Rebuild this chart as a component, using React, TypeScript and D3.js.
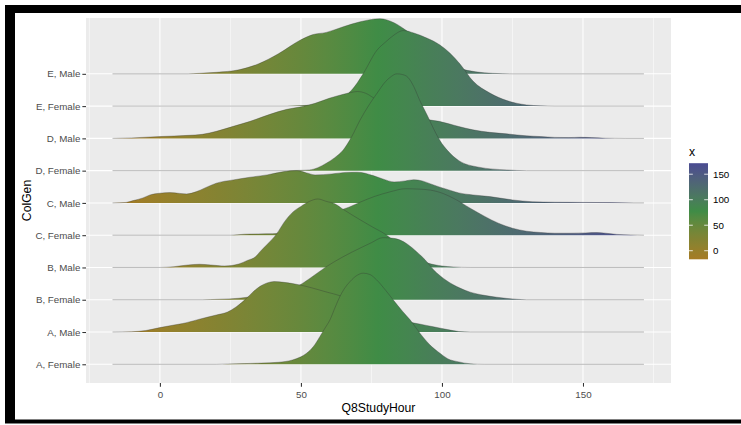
import React, { useEffect, useRef } from 'react';
import * as d3 from 'd3';

// categories, bottom row first
const groups: string[] = [
  'A, Female', 'A, Male', 'B, Female', 'B, Male', 'C, Female',
  'C, Male', 'D, Female', 'D, Male', 'E, Female', 'E, Male',
];

const aFemale: [number, number][] = [[-16.8,0],[20,0],[24,0.15],[30,0.35],[36,0.6],[42,1],[47,2.15],[50,3.75],[52,5.5],[54.5,9],[56.7,13.8],[58.5,18],[60.3,22.2],[62,28],[63.8,33.8],[65.5,38],[67.4,41.3],[70,44.5],[72.1,45.5],[74.5,44.8],[76.8,42.2],[80,37],[82.7,32.2],[86,26.5],[88.7,22.2],[92.2,15.5],[95.5,10],[99.3,5.5],[102,2.8],[106,1.2],[110,0.25],[115,0],[171.6,0]];
const aMale: [number, number][] = [[-16.8,0],[-10,0.15],[-5,0.75],[0,2.2],[5,3.5],[8,4.2],[14,6.4],[20,8.5],[24,10],[27,12.5],[30.7,16.8],[33,20],[35.5,22.8],[38,24.5],[40.5,25.2],[44,24.8],[47,24.2],[49.6,23.5],[54,22],[59,20],[65,17.6],[70,14.5],[75,11],[80,8.5],[84,6.5],[87.5,5.2],[92,4],[97,2.6],[102,1.2],[106,0.25],[110,0],[171.6,0]];
const bFemale: [number, number][] = [[-16.8,0],[15,0],[21,0.25],[28,0.75],[31,1.25],[35,1.75],[40,3],[45,5],[49.6,7.4],[54,11.5],[59,16.5],[65,21.5],[71,25.8],[75,28.5],[79,31],[82,30.8],[85,29.9],[88,27.5],[91,24],[94,20],[97,15],[101.7,9.5],[106.4,5.8],[110,3.8],[115,2.2],[119.4,1.25],[126.5,0.25],[130,0],[171.6,0]];
const bMale: [number, number][] = [[-16.8,0],[0,0],[5,0.4],[10,1.25],[14,1.6],[18,1.25],[23,0.75],[28,1.75],[31,3.5],[34,5.5],[35.5,7.9],[38,11.5],[41.5,17],[44,22.5],[47,27.5],[50,30.5],[53,33],[56,34.2],[59,33],[62,31.8],[65,29],[71,23.8],[75,20.5],[80,16.5],[85,11],[90,5.5],[95,2.2],[100,0.75],[104,0.25],[110,0],[171.6,0]];
const cFemale: [number, number][] = [[-16.8,0],[25,0],[30,0.5],[35,0.65],[40,0.75],[45,2],[50,5],[55,8.5],[60,11],[64,12.5],[67,14],[71,16.5],[76,19.3],[82,21.8],[87,23.2],[92,23],[96,22.5],[99,21.5],[104,18.5],[110,13.5],[115,9.5],[120,6],[125,3.5],[130,2],[135,1.35],[140,1],[146,1],[151,1.15],[155,1.3],[158,1],[162,0.4],[167,0.15],[171.6,0]];
const cMale: [number, number][] = [[-16.8,0],[-12,0.25],[-9.5,1.15],[-6,2.5],[-3.5,4],[0,4.85],[3.5,5.15],[7,4.75],[9.5,4.5],[13,5.65],[16,7.5],[20,9.85],[26,11.5],[32,12.85],[38,14],[44,15.65],[48.5,16.15],[52,15],[55,14],[61,14.5],[66,15.25],[70,15.35],[75.6,13.65],[79,12],[83,10.5],[87,11],[90,11.6],[93,11],[96,9.5],[99,8],[103,6.25],[106,5],[111,4],[117,3.15],[125,1.5],[132,0.6],[140,0.35],[150,0.25],[160,0.15],[168,0],[171.6,0]];
const dFemale: [number, number][] = [[-16.8,0],[45,0],[50,0.15],[53,0.35],[56,1.5],[59,3.7],[62,6.5],[65,10.35],[68,17],[71,25.35],[74,32.5],[77,38.7],[80,44.5],[82,47],[84,48.35],[86,48],[88,46.5],[90,42],[92,35.5],[95,27],[97,21],[99.3,15],[102,10],[106,5],[113,1.75],[123,0.35],[130,0],[171.6,0]];
const dMale: [number, number][] = [[-16.8,0],[-10,0.25],[0,0.9],[10,1.5],[15,2],[20,3.5],[26,6],[32,8.5],[39,12],[45,14.5],[50,15.75],[55,17.5],[60,20],[65,22],[68,23],[70,23.4],[73,22.5],[76,20],[80,16.5],[85,13],[92,10],[99,8.5],[106,5.9],[111,4.25],[117,3],[123,2.25],[130,1.25],[135,0.9],[140,0.5],[145,0.4],[149,0.55],[153,0.4],[158,0.1],[165,0],[171.6,0]];
const eFemale: [number, number][] = [[-16.8,0],[45,0],[50,0.25],[58,1],[63,3],[68,8],[72,16],[77,28],[80,32],[83,35.5],[86.3,37.75],[90,36.5],[94.6,34],[99.3,30.5],[102.8,26.5],[106.4,21],[111,12.5],[117,6.5],[123,2.75],[130,0.6],[135,0.15],[140,0],[171.6,0]];
const eMale: [number, number][] = [[-16.8,0],[10,0],[14,0.25],[20,0.75],[28,2],[35,5],[42,10],[50,17],[54,19.5],[59,20.7],[65,23.5],[71,26],[78,27.5],[83,25.5],[88,21],[95,14],[100,8.5],[106,3],[112,1],[118,0.25],[125,0],[171.6,0]];

// same order as groups
const ridgeData = [aFemale, aMale, bFemale, bMale, cFemale, cMale, dFemale, dMale, eFemale, eMale];

const xTicks: number[] = [0, 50, 100, 150];
const xMinorTicks: number[] = [-25, 25, 75, 125, 175];
const legendTicks: number[] = [0, 50, 100, 150];
const hourRange: [number, number] = [-16.8, 171.6];
const fillColours: string[] = ['#a67b24', '#3f8c46', '#4a4b92'];

const App = () => {
  const svgRef = useRef<SVGSVGElement>(null);

  useEffect(() => {
    drawChart();
    return () => {
      // cleanup so strict mode doesn't draw it twice
      d3.select(svgRef.current).selectAll('*').remove();
    };
  }, []);

  const drawChart = () => {
    const font = '"Liberation Sans", Arial, Helvetica, sans-serif';
    const panel = { left: 86, right: 671, top: 18, bottom: 383 };
    const svg = d3.select(svgRef.current);

    // the black frame round the screenshot
    svg.append('rect').attr('x', 5).attr('y', 5).attr('width', 740).attr('height', 418.5).attr('fill', '#000');
    svg.append('rect').attr('x', 15).attr('y', 13).attr('width', 730).attr('height', 406.5).attr('fill', '#fff');

    const x = d3.scaleLinear().domain([-26.2, 181.2]).range([panel.left, panel.right]);
    const y = d3.scaleLinear().domain([-0.58, 10.73]).range([panel.bottom, panel.top]);
    const ridgeScale = 3.0;
    const maxDensity = d3.max(ridgeData.flat(), d => d[1]) as number;

    const mid = (hourRange[0] + hourRange[1]) / 2;
    const colour = d3.scaleLinear<string>()
      .domain([hourRange[0], mid, hourRange[1]])
      .range(fillColours)
      .interpolate(d3.interpolateLab);

    const defs = svg.append('defs');
    // horizontal gradient for the ridges
    const grad = defs.append('linearGradient')
      .attr('id', 'ridgeFill')
      .attr('gradientUnits', 'userSpaceOnUse')
      .attr('x1', x(hourRange[0])).attr('x2', x(hourRange[1]))
      .attr('y1', 0).attr('y2', 0);
    d3.range(0, 1.0001, 0.05).forEach(t => {
      grad.append('stop').attr('offset', t).attr('stop-color', colour(hourRange[0] + t * (hourRange[1] - hourRange[0])));
    });
    // vertical one for the colourbar
    const legGrad = defs.append('linearGradient')
      .attr('id', 'legendFill')
      .attr('x1', 0).attr('x2', 0).attr('y1', 1).attr('y2', 0);
    d3.range(0, 1.0001, 0.05).forEach(t => {
      legGrad.append('stop').attr('offset', t).attr('stop-color', colour(hourRange[0] + t * (hourRange[1] - hourRange[0])));
    });
    defs.append('clipPath').attr('id', 'panelClip').append('rect')
      .attr('x', panel.left).attr('y', panel.top)
      .attr('width', panel.right - panel.left).attr('height', panel.bottom - panel.top);

    // panel background + grid
    svg.append('rect')
      .attr('x', panel.left).attr('y', panel.top)
      .attr('width', panel.right - panel.left).attr('height', panel.bottom - panel.top)
      .attr('fill', '#EBEBEB');
    svg.append('g').selectAll('line').data(xMinorTicks).enter().append('line')
      .attr('x1', d => x(d)).attr('x2', d => x(d))
      .attr('y1', panel.top).attr('y2', panel.bottom)
      .attr('stroke', '#fff').attr('stroke-width', 0.53);
    svg.append('g').selectAll('line').data(xTicks).enter().append('line')
      .attr('x1', d => x(d)).attr('x2', d => x(d))
      .attr('y1', panel.top).attr('y2', panel.bottom)
      .attr('stroke', '#fff').attr('stroke-width', 1.07);
    svg.append('g').selectAll('line').data(d3.range(groups.length)).enter().append('line')
      .attr('x1', panel.left).attr('x2', panel.right)
      .attr('y1', d => y(d)).attr('y2', d => y(d))
      .attr('stroke', '#fff').attr('stroke-width', 1.07);

    // ridges, top row first so the lower ones sit in front
    const ridges = svg.append('g').attr('clip-path', 'url(#panelClip)');
    for (let i = groups.length - 1; i >= 0; i--) {
      const top = (d: [number, number]) => y(i + (d[1] / maxDensity) * ridgeScale);
      const area = d3.area<[number, number]>()
        .x(d => x(d[0])).y0(y(i)).y1(top)
        .curve(d3.curveMonotoneX);
      const line = d3.line<[number, number]>()
        .x(d => x(d[0])).y(top)
        .curve(d3.curveMonotoneX);
      ridges.append('path').attr('d', area(ridgeData[i]) as string).attr('fill', 'url(#ridgeFill)');
      ridges.append('path').attr('d', line(ridgeData[i]) as string)
        .attr('fill', 'none').attr('stroke', '#333').attr('stroke-width', 0.45).attr('stroke-opacity', 0.75);
    }

    // axes
    const xAxis = svg.append('g')
      .attr('transform', `translate(0,${panel.bottom})`)
      .call(d3.axisBottom(x).tickValues(xTicks).tickSize(3.65).tickPadding(4));
    const yAxis = svg.append('g')
      .attr('transform', `translate(${panel.left},0)`)
      .call(d3.axisLeft(y).tickValues(d3.range(groups.length)).tickFormat(d => groups[d as number]).tickSize(3.65).tickPadding(2));
    [xAxis, yAxis].forEach(ax => {
      ax.select('.domain').remove();
      ax.selectAll('.tick line').attr('stroke', '#333').attr('stroke-width', 1.07);
      ax.selectAll('.tick text').attr('fill', '#4D4D4D').style('font-family', font).style('font-size', '9.76px');
    });

    // titles
    svg.append('text')
      .attr('x', (panel.left + panel.right) / 2).attr('y', 411.5)
      .attr('text-anchor', 'middle')
      .style('font-family', font).style('font-size', '12.2px')
      .text('Q8StudyHour');
    svg.append('text')
      .attr('transform', `translate(30.5,${(panel.top + panel.bottom) / 2}) rotate(-90)`)
      .attr('text-anchor', 'middle')
      .style('font-family', font).style('font-size', '12.2px')
      .text('ColGen');

    // colourbar legend
    const ly = d3.scaleLinear().domain(hourRange).range([259.3, 163.2]);
    const bar = { x: 689, w: 19 };
    svg.append('text')
      .attr('x', bar.x).attr('y', 155.5)
      .style('font-family', font).style('font-size', '12.2px')
      .text('x');
    svg.append('rect')
      .attr('x', bar.x).attr('y', ly(hourRange[1]))
      .attr('width', bar.w).attr('height', ly(hourRange[0]) - ly(hourRange[1]))
      .attr('fill', 'url(#legendFill)');
    const lt = svg.append('g').selectAll('g').data(legendTicks).enter().append('g');
    lt.append('line')
      .attr('x1', bar.x).attr('x2', bar.x + 3.8)
      .attr('y1', d => ly(d)).attr('y2', d => ly(d))
      .attr('stroke', '#fff').attr('stroke-width', 0.8);
    lt.append('line')
      .attr('x1', bar.x + bar.w - 3.8).attr('x2', bar.x + bar.w)
      .attr('y1', d => ly(d)).attr('y2', d => ly(d))
      .attr('stroke', '#fff').attr('stroke-width', 0.8);
    lt.append('text')
      .attr('x', bar.x + bar.w + 5).attr('y', d => ly(d)).attr('dy', '0.35em')
      .style('font-family', font).style('font-size', '9.76px')
      .text(d => d);
  };

  return (
    <div>
      <style>{'body{margin:0}'}</style>
      <svg ref={svgRef} width={741} height={425} style={{ display: 'block' }}></svg>
    </div>
  );
};

export default App;
